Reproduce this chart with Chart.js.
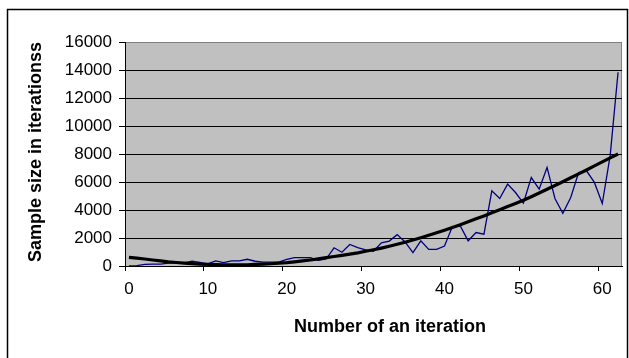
<!DOCTYPE html>
<html>
<head>
<meta charset="utf-8">
<script src="https://cdn.jsdelivr.net/npm/chart.js@4/dist/chart.umd.min.js"></script>
<style>
  html, body { margin: 0; padding: 0; background: #ffffff; }
  #wrap { width: 629px; height: 358px; }
</style>
</head>
<body>
<div id="wrap"><canvas id="chart" width="629" height="358"></canvas></div>
<script>
// Iteration numbers (category axis)
const iterations = [
  0, 1, 2, 3, 4, 5, 6, 7, 8, 9,
  10, 11, 12, 13, 14, 15, 16, 17, 18, 19,
  20, 21, 22, 23, 24, 25, 26, 27, 28, 29,
  30, 31, 32, 33, 34, 35, 36, 37, 38, 39,
  40, 41, 42, 43, 44, 45, 46, 47, 48, 49,
  50, 51, 52, 53, 54, 55, 56, 57, 58, 59,
  60, 61, 62
];

// Sample size measured at each iteration
const sampleSizes = [
  0, 30, 120, 130, 130, 200, 230, 220, 350, 250,
  150, 360, 240, 360, 360, 480, 340, 280, 280, 280,
  480, 600, 600, 600, 400, 500, 1300, 980, 1540, 1320,
  1150, 1050, 1660, 1780, 2240, 1720, 950, 1800, 1190, 1190,
  1430, 2820, 2860, 1800, 2390, 2270, 5370, 4820, 5850, 5250,
  4490, 6320, 5490, 7040, 4820, 3770, 4890, 6680, 6800, 5970,
  4460, 7880, 13840
];

// Trend line through the sample sizes
const trendValues = [
  620, 560, 500, 430, 370, 300, 250, 210, 170, 140,
  120, 105, 90, 80, 80, 90, 110, 130, 160, 200,
  240, 300, 360, 430, 510, 600, 680, 760, 850, 940,
  1050, 1160, 1280, 1410, 1550, 1700, 1860, 2020, 2190, 2370,
  2560, 2750, 2950, 3160, 3370, 3580, 3800, 4020, 4250, 4470,
  4700, 4950, 5210, 5480, 5750, 6020, 6300, 6580, 6860, 7150,
  7440, 7720, 8000
];

// Axis tick labels
const xTickLabels = ['0', '10', '20', '30', '40', '50', '60'];
const yTickValues = [0, 2000, 4000, 6000, 8000, 10000, 12000, 14000, 16000];

const xTitle = 'Number of an iteration';
const yTitle = 'Sample size in iterationss';

const FONT = '"Liberation Sans", Arial, sans-serif';

// Frame, grey plot background and the axis titles
const decor = {
  id: 'decor',
  beforeDraw(chart) {
    const { ctx, chartArea: a } = chart;
    ctx.save();
    ctx.fillStyle = '#ffffff';
    ctx.fillRect(0, 0, chart.width, chart.height);
    ctx.strokeStyle = '#000000';
    ctx.lineWidth = 1.5;
    ctx.strokeRect(7.5, 9.5, 620, 360);
    ctx.fillStyle = '#c0c0c0';
    ctx.fillRect(a.left, a.top, a.right - a.left, a.bottom - a.top);
    ctx.strokeStyle = '#808080';
    ctx.lineWidth = 1;
    ctx.strokeRect(a.left + 0.5, a.top + 0.5, a.right - a.left - 1, a.bottom - a.top);
    ctx.restore();
  },
  afterDraw(chart) {
    const { ctx, chartArea: a } = chart;
    ctx.save();
    ctx.fillStyle = '#000000';
    ctx.font = 'bold 18px ' + FONT;
    ctx.textAlign = 'center';
    ctx.textBaseline = 'middle';
    ctx.fillText(xTitle, 390, 327);
    ctx.translate(36, (a.top + a.bottom) / 2 - 2);
    ctx.rotate(-Math.PI / 2);
    ctx.fillText(yTitle, 0, 0);
    ctx.restore();
  }
};

new Chart(document.getElementById('chart'), {
  type: 'line',
  data: {
    labels: iterations.map(String),
    datasets: [
      {
        label: 'Trend',
        data: trendValues,
        borderColor: '#000000',
        borderWidth: 3.2,
        pointRadius: 0,
        tension: 0,
        fill: false
      },
      {
        label: 'Sample size',
        data: sampleSizes,
        borderColor: '#000080',
        borderWidth: 1.3,
        pointRadius: 0,
        tension: 0,
        fill: false
      }
    ]
  },
  options: {
    responsive: false,
    devicePixelRatio: 1,
    animation: false,
    events: [],
    layout: { padding: { left: 0, right: 7, top: 42, bottom: 0 } },
    plugins: {
      legend: { display: false },
      tooltip: { enabled: false },
      title: { display: false }
    },
    scales: {
      x: {
        type: 'category',
        offset: true,
        afterFit(scale) { scale.height = 92; },
        grid: {
          offset: true,
          drawOnChartArea: false,
          drawTicks: true,
          tickLength: 5,
          color: ctx => (ctx.index % 10 === 0 && ctx.index <= 60) ? '#000000' : 'rgba(0,0,0,0)',
          lineWidth: 1
        },
        border: { display: true, color: '#000000', width: 1 },
        ticks: {
          autoSkip: false,
          maxRotation: 0,
          minRotation: 0,
          padding: 8,
          color: '#000000',
          font: { family: FONT, size: 17 },
          callback(value) {
            const lbl = this.getLabelForValue(value);
            return xTickLabels.includes(lbl) ? lbl : '';
          }
        }
      },
      y: {
        min: 0,
        max: 16000,
        afterFit(scale) { scale.width = 125; },
        afterBuildTicks(scale) {
          scale.ticks = yTickValues.map(v => ({ value: v }));
        },
        grid: {
          drawOnChartArea: true,
          drawTicks: true,
          tickLength: 6,
          color: ctx => (ctx.tick && ctx.tick.value === 16000) ? '#808080' : '#000000',
          tickColor: '#000000',
          lineWidth: 1
        },
        border: { display: true, color: '#000000', width: 1 },
        ticks: {
          padding: 7,
          color: '#000000',
          font: { family: FONT, size: 17 },
          callback: v => String(v)
        }
      }
    }
  },
  plugins: [decor]
});
</script>
</body>
</html>
